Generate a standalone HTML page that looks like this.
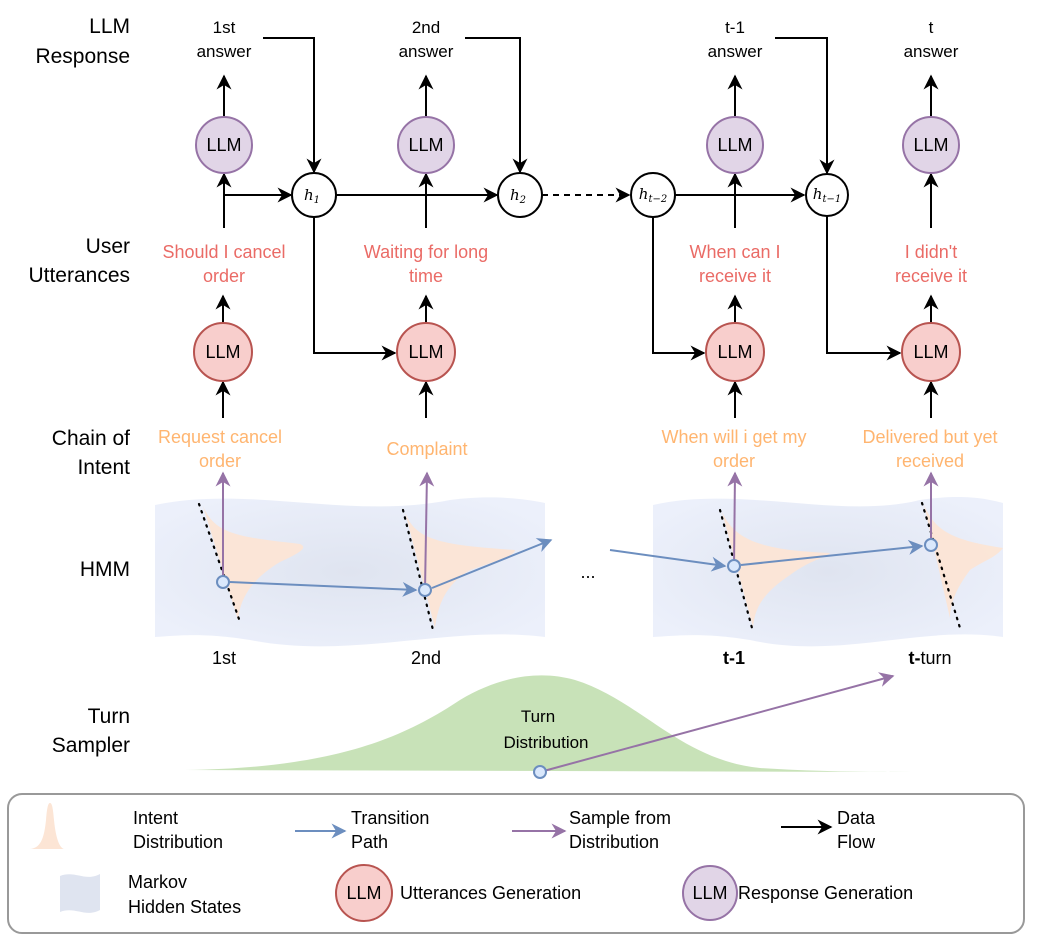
<!DOCTYPE html>
<html><head><meta charset="utf-8"><style>
html,body{margin:0;padding:0;background:#fff}
svg{display:block;font-family:"Liberation Sans",sans-serif}
</style></head><body>
<svg width="1038" height="938" viewBox="0 0 1038 938" xmlns="http://www.w3.org/2000/svg">
<defs>
<marker id="ak" viewBox="0 0 10 10" refX="9" refY="5" markerWidth="7.5" markerHeight="7.5" orient="auto-start-reverse"><path d="M0,0 L10,5 L0,10 L3,5 Z" fill="#000"/></marker>
<marker id="ab" viewBox="0 0 10 10" refX="9" refY="5" markerWidth="7.5" markerHeight="7.5" orient="auto"><path d="M0,0 L10,5 L0,10 L3,5 Z" fill="#6c8ebf"/></marker>
<marker id="ap" viewBox="0 0 10 10" refX="9" refY="5" markerWidth="7.5" markerHeight="7.5" orient="auto"><path d="M0,0 L10,5 L0,10 L3,5 Z" fill="#9673a6"/></marker>
<radialGradient id="bg" cx="0.5" cy="0.5" r="0.6"><stop offset="0" stop-color="#dfe4f0"/><stop offset="1" stop-color="#ecf0fb"/></radialGradient>
</defs>

<g font-size="21" text-anchor="end" fill="#000">
<text x="130" y="33">LLM</text><text x="130" y="63">Response</text>
<text x="130" y="253">User</text><text x="130" y="282">Utterances</text>
<text x="130" y="445">Chain of</text><text x="130" y="474">Intent</text>
<text x="130" y="576">HMM</text>
<text x="130" y="723">Turn</text><text x="130" y="752">Sampler</text>
</g>

<g font-size="17" text-anchor="middle">
<text x="224" y="33">1st</text><text x="224" y="57">answer</text>
<text x="426" y="33">2nd</text><text x="426" y="57">answer</text>
<text x="735" y="33">t-1</text><text x="735" y="57">answer</text>
<text x="931" y="33">t</text><text x="931" y="57">answer</text>
</g>

<g stroke="#000" stroke-width="2" fill="none">
<line x1="224" y1="117" x2="224" y2="76" marker-end="url(#ak)"/>
<line x1="426" y1="117" x2="426" y2="76" marker-end="url(#ak)"/>
<line x1="735" y1="117" x2="735" y2="76" marker-end="url(#ak)"/>
<line x1="931" y1="117" x2="931" y2="76" marker-end="url(#ak)"/>
<polyline points="263,38 314,38 314,172" marker-end="url(#ak)"/>
<polyline points="465,38 520,38 520,172" marker-end="url(#ak)"/>
<polyline points="775,38 827,38 827,173" marker-end="url(#ak)"/>
<line x1="224" y1="228" x2="224" y2="174" marker-end="url(#ak)"/>
<line x1="426" y1="228" x2="426" y2="174" marker-end="url(#ak)"/>
<line x1="735" y1="228" x2="735" y2="174" marker-end="url(#ak)"/>
<line x1="931" y1="228" x2="931" y2="174" marker-end="url(#ak)"/>
<line x1="224" y1="195" x2="291" y2="195" marker-end="url(#ak)"/>
<line x1="336" y1="195" x2="497" y2="195" marker-end="url(#ak)"/>
<line x1="542" y1="195" x2="629" y2="195" stroke-dasharray="6,5" marker-end="url(#ak)"/>
<line x1="675" y1="195" x2="804" y2="195" marker-end="url(#ak)"/>
<polyline points="314,217 314,353 395,353" marker-end="url(#ak)"/>
<polyline points="653,217 653,353 704,353" marker-end="url(#ak)"/>
<polyline points="827,216 827,353 900,353" marker-end="url(#ak)"/>
<line x1="223" y1="323" x2="223" y2="296" marker-end="url(#ak)"/>
<line x1="426" y1="323" x2="426" y2="296" marker-end="url(#ak)"/>
<line x1="735" y1="323" x2="735" y2="296" marker-end="url(#ak)"/>
<line x1="931" y1="323" x2="931" y2="296" marker-end="url(#ak)"/>
<line x1="223" y1="418" x2="223" y2="382" marker-end="url(#ak)"/>
<line x1="426" y1="418" x2="426" y2="382" marker-end="url(#ak)"/>
<line x1="735" y1="418" x2="735" y2="382" marker-end="url(#ak)"/>
<line x1="931" y1="418" x2="931" y2="382" marker-end="url(#ak)"/>
</g>

<g fill="#e1d5e7" stroke="#9673a6" stroke-width="2">
<circle cx="224" cy="145" r="28"/><circle cx="426" cy="145" r="28"/>
<circle cx="735" cy="145" r="28"/><circle cx="931" cy="145" r="28"/>
</g>
<g fill="#f8cecc" stroke="#b85450" stroke-width="2">
<circle cx="223" cy="352" r="29"/><circle cx="426" cy="352" r="29"/>
<circle cx="735" cy="352" r="29"/><circle cx="931" cy="352" r="29"/>
</g>
<g font-size="18" text-anchor="middle">
<text x="224" y="151">LLM</text><text x="426" y="151">LLM</text><text x="735" y="151">LLM</text><text x="931" y="151">LLM</text>
<text x="223" y="358">LLM</text><text x="426" y="358">LLM</text><text x="735" y="358">LLM</text><text x="931" y="358">LLM</text>
</g>
<g fill="#fff" stroke="#000" stroke-width="2">
<circle cx="314" cy="195" r="22"/><circle cx="520" cy="195" r="22"/>
<circle cx="653" cy="195" r="22"/><circle cx="827" cy="195" r="21"/>
</g>
<g font-family="'DejaVu Serif',serif" font-style="italic" font-size="15" text-anchor="middle">
<text x="312" y="200">h<tspan font-size="10" dy="3">1</tspan></text>
<text x="518" y="200">h<tspan font-size="10" dy="3">2</tspan></text>
<text x="653" y="199">h<tspan font-size="10" dy="3">t−2</tspan></text>
<text x="827" y="199">h<tspan font-size="10" dy="3">t−1</tspan></text>
</g>

<g font-size="18" text-anchor="middle" fill="#ea6b66">
<text x="224" y="258">Should I cancel</text><text x="224" y="282">order</text>
<text x="426" y="258">Waiting for long</text><text x="426" y="282">time</text>
<text x="735" y="258">When can I</text><text x="735" y="282">receive it</text>
<text x="931" y="258">I didn't</text><text x="931" y="282">receive it</text>
</g>
<g font-size="18" text-anchor="middle" fill="#ffb570">
<text x="220" y="443">Request cancel</text><text x="220" y="467">order</text>
<text x="427" y="455">Complaint</text>
<text x="734" y="443">When will i get my</text><text x="734" y="467">order</text>
<text x="930" y="443">Delivered but yet</text><text x="930" y="467">received</text>
</g>

<path d="M155,505 C250,485 350,520 450,500 C490,495 520,498 545,503 L545,637 C450,625 350,660 250,640 C200,632 175,636 155,637 Z" fill="url(#bg)"/>
<path d="M653,505 C740,485 840,520 920,500 C960,494 985,498 1003,503 L1003,637 C920,625 840,660 750,640 C700,632 675,636 653,637 Z" fill="url(#bg)"/>
<g fill="#fce5d5" opacity="0.95">
<path d="M203,506 C215,535 240,537 300,544 C310,548 295,555 280,562 C250,580 240,600 238,620 Z"/>
<path d="M405,512 C415,540 440,545 515,550 C515,555 500,560 470,570 C445,585 438,605 435,628 Z"/>
<path d="M722,512 C735,540 760,550 830,553 C825,558 810,560 790,575 C760,595 755,610 753,627 Z"/>
<path d="M924,505 C935,530 950,540 1003,548 C995,558 985,560 970,570 C955,590 950,605 950,618 Z"/>
</g>
<g stroke="#000" stroke-width="2.2" stroke-dasharray="1.5,6" stroke-linecap="round">
<line x1="199" y1="504" x2="240" y2="622"/>
<line x1="403" y1="510" x2="433" y2="630"/>
<line x1="720" y1="510" x2="752" y2="628"/>
<line x1="922" y1="503" x2="960" y2="628"/>
</g>
<g stroke="#9673a6" stroke-width="2" fill="none">
<line x1="223" y1="582" x2="223" y2="473" marker-end="url(#ap)"/>
<line x1="425" y1="590" x2="427" y2="473" marker-end="url(#ap)"/>
<line x1="734" y1="566" x2="735" y2="473" marker-end="url(#ap)"/>
<line x1="931" y1="545" x2="931" y2="473" marker-end="url(#ap)"/>
</g>
<g stroke="#6c8ebf" stroke-width="2" fill="none">
<line x1="230" y1="582" x2="416" y2="590" marker-end="url(#ab)"/>
<line x1="432" y1="588" x2="551" y2="540" marker-end="url(#ab)"/>
<line x1="610" y1="550" x2="725" y2="566" marker-end="url(#ab)"/>
<line x1="741" y1="565" x2="922" y2="546" marker-end="url(#ab)"/>
</g>
<g fill="#dae8fc" stroke="#6c8ebf" stroke-width="2">
<circle cx="223" cy="582" r="6"/><circle cx="425" cy="590" r="6"/>
<circle cx="734" cy="566" r="6"/><circle cx="931" cy="545" r="6"/>
</g>
<text x="588" y="578" font-size="18" text-anchor="middle">...</text>
<g font-size="18" text-anchor="middle">
<text x="224" y="664">1st</text><text x="426" y="664">2nd</text>
<text x="734" y="664" font-weight="bold">t-1</text>
<text x="930" y="664"><tspan font-weight="bold">t-</tspan>turn</text>
</g>

<path d="M185,770 C330,768 400,740 460,700 C500,676 540,670 575,680 C640,700 680,760 760,768 C820,772 880,772 912,772 Z" fill="#c5e0b4" opacity="0.95"/>
<line x1="540" y1="772" x2="893" y2="676" stroke="#9673a6" stroke-width="2" marker-end="url(#ap)"/>
<circle cx="540" cy="772" r="6" fill="#dae8fc" stroke="#6c8ebf" stroke-width="2"/>
<g font-size="17" text-anchor="middle"><text x="538" y="722">Turn</text><text x="546" y="748">Distribution</text></g>

<rect x="8" y="794" width="1016" height="139" rx="14" fill="#fff" stroke="#999" stroke-width="2"/>
<path d="M30,849 C40,848 44,840 46,820 C47,808 48,803 50,803 C52,803 53,808 54,820 C56,840 60,848 64,849 Z" fill="#fce5d5"/>
<g font-size="18">
<text x="133" y="824">Intent</text><text x="133" y="848">Distribution</text>
<text x="351" y="824">Transition</text><text x="351" y="848">Path</text>
<text x="569" y="824">Sample from</text><text x="569" y="848">Distribution</text>
<text x="837" y="824">Data</text><text x="837" y="848">Flow</text>
<text x="128" y="888">Markov</text><text x="128" y="913">Hidden States</text>
<text x="400" y="899">Utterances Generation</text>
<text x="738" y="899">Response Generation</text>
</g>
<line x1="295" y1="831" x2="345" y2="831" stroke="#6c8ebf" stroke-width="2" marker-end="url(#ab)"/>
<line x1="512" y1="831" x2="565" y2="831" stroke="#9673a6" stroke-width="2" marker-end="url(#ap)"/>
<line x1="781" y1="827" x2="831" y2="827" stroke="#000" stroke-width="2" marker-end="url(#ak)"/>
<path d="M60,876 C75,870 85,882 100,874 L100,910 C85,918 75,906 60,912 Z" fill="#dfe4f0"/>
<circle cx="364" cy="893" r="28" fill="#f8cecc" stroke="#b85450" stroke-width="2"/>
<circle cx="710" cy="893" r="27" fill="#e1d5e7" stroke="#9673a6" stroke-width="2"/>
<g font-size="18" text-anchor="middle"><text x="364" y="899">LLM</text><text x="710" y="899">LLM</text></g>
</svg>
</body></html>
